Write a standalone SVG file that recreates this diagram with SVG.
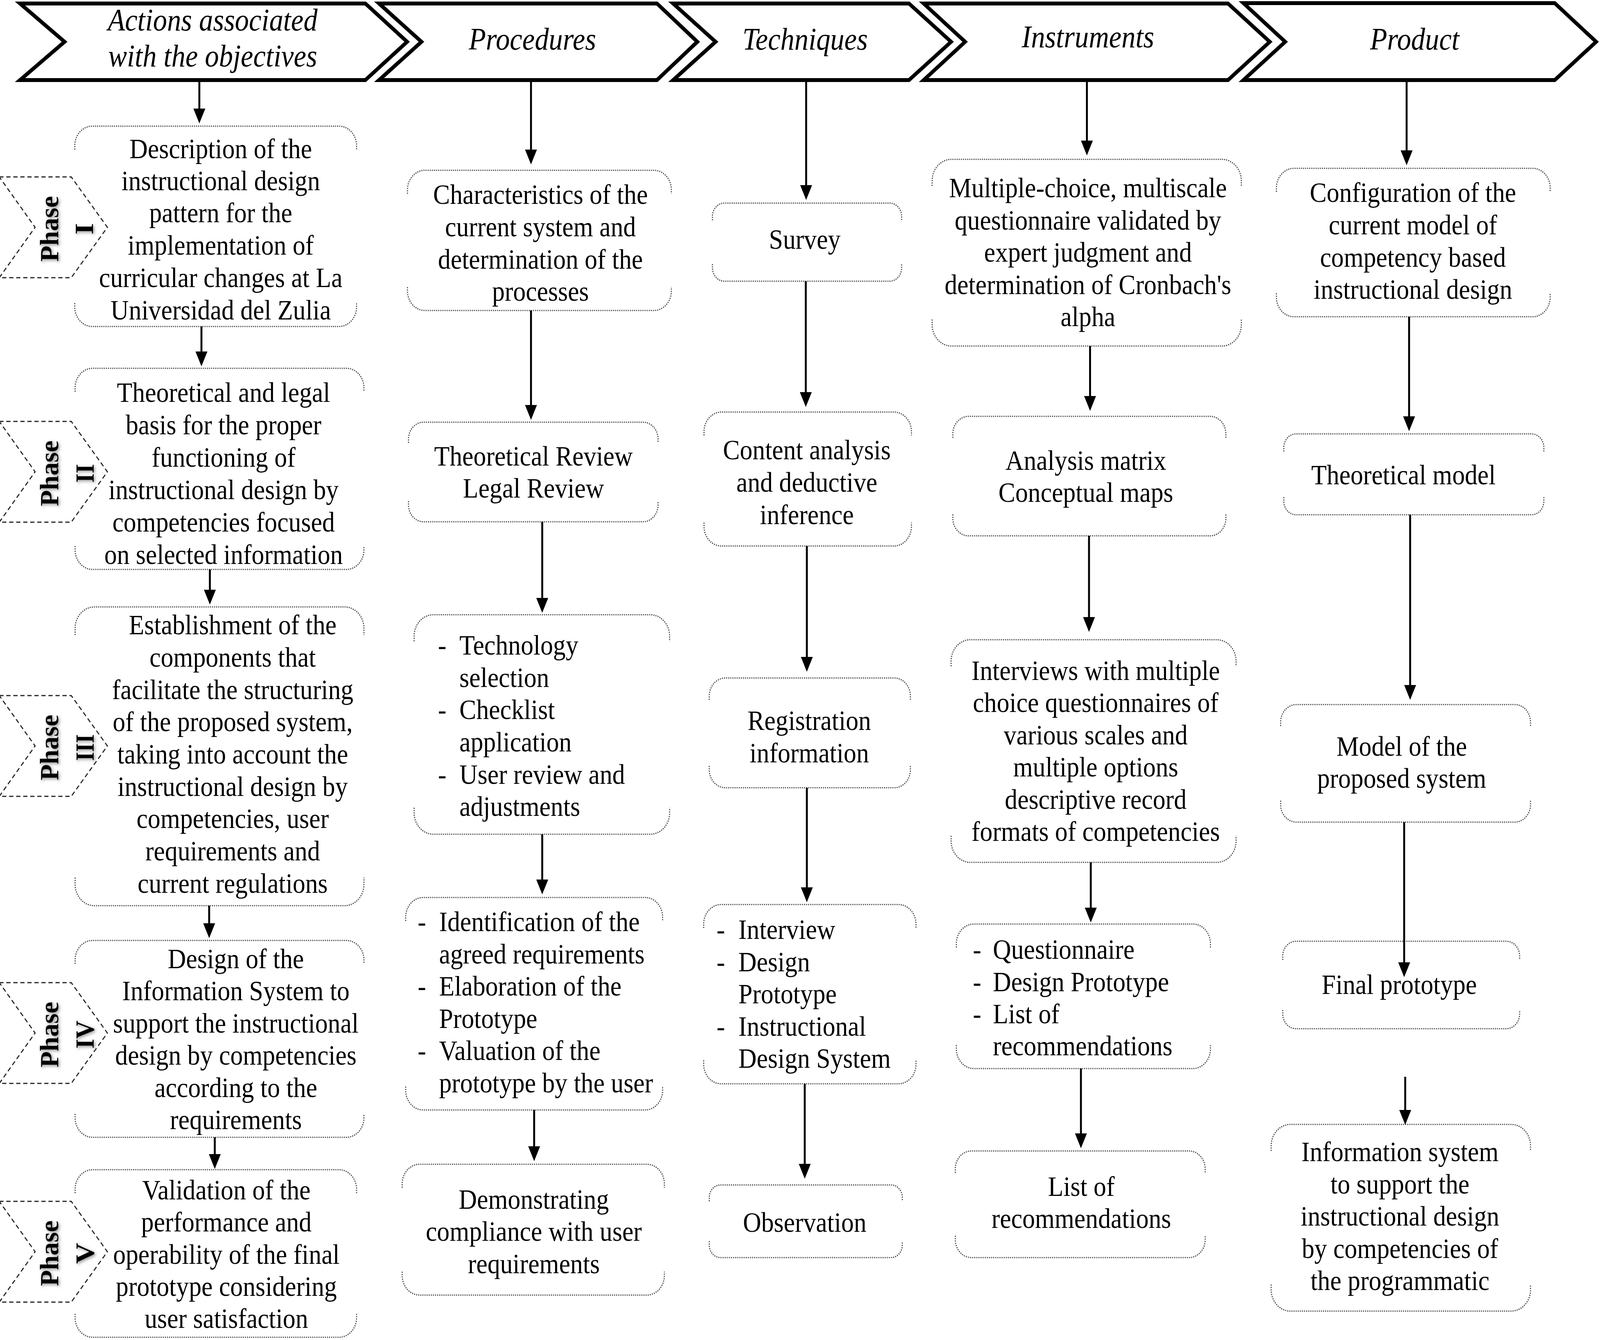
<svg xmlns="http://www.w3.org/2000/svg" width="4559" height="3431" viewBox="0 0 4559 3431" preserveAspectRatio="none">
<style>
svg{width:100vw;height:100vh;display:block}
.t{font-family:"Liberation Serif","Times New Roman",serif;font-size:72px;fill:#000}
.c{text-anchor:middle}
.h{font-style:italic;font-size:80px}
.ph{font-weight:bold;font-size:76px;text-anchor:middle}
.nb{fill:none;stroke:#444;stroke-width:3;stroke-dasharray:3 3}
.hd{fill:#fff;stroke:#000;stroke-width:10;stroke-linejoin:miter}
.pl{fill:none;stroke:#222;stroke-width:3;stroke-dasharray:12 8}
.cn{stroke:#000;stroke-width:5.5;fill:none;marker-end:url(#ah)}
</style>
<defs>
<marker id="ah" markerUnits="userSpaceOnUse" markerWidth="38" markerHeight="34" refX="8" refY="17" orient="auto" viewBox="0 0 38 34">
<path d="M0,0 L38,17 L0,34 z" fill="#000"/>
</marker>
<filter id="sh" x="-30%" y="-30%" width="160%" height="160%">
<feGaussianBlur in="SourceAlpha" stdDeviation="4" result="b"/>
<feOffset in="b" dx="-3" dy="3" result="o"/>
<feFlood flood-color="#777" flood-opacity="0.8"/>
<feComposite in2="o" operator="in" result="s"/>
<feMerge><feMergeNode in="s"/><feMergeNode in="SourceGraphic"/></feMerge>
</filter>
</defs>
<rect width="4559" height="3431" fill="#fff"/>

<g id="headers">
<g id="h1"><polygon class="hd" points="57,9 1041,9 1160,107 1041,205 57,205 184,107"/>
<text class="t c h" x="606" y="78">Actions associated</text>
<text class="t c h" x="606" y="170">with the objectives</text></g>
<g id="h2"><polygon class="hd" points="1080,9 1872,9 1987,107 1872,205 1080,205 1201,107"/>
<text class="t c h" x="1517" y="127">Procedures</text></g>
<g id="h3"><polygon class="hd" points="1918,9 2590,9 2710,107 2590,205 1918,205 2039,107"/>
<text class="t c h" x="2294" y="127">Techniques</text></g>
<g id="h4"><polygon class="hd" points="2632,9 3499,9 3618,107 3499,205 2632,205 2750,107"/>
<text class="t c h" x="3100" y="121">Instruments</text></g>
<g id="h5"><polygon class="hd" points="3543,8 4430,8 4548,107 4430,205 3543,205 3662,107"/>
<text class="t c h" x="4031" y="127">Product</text></g>
</g>

<g id="phases">
<g id="ph1"><polygon class="pl" points="-2,453 203,453 306,582 203,711 -2,711 100,582"/>
<text class="t ph" filter="url(#sh)" transform="translate(166,586) rotate(-90)" textLength="168" lengthAdjust="spacingAndGlyphs">Phase</text>
<text class="t ph" filter="url(#sh)" transform="translate(265,586) rotate(-90)">I</text></g>
<g id="ph2"><polygon class="pl" points="-2,1079 203,1079 306,1208 203,1337 -2,1337 100,1208"/>
<text class="t ph" filter="url(#sh)" transform="translate(166,1212) rotate(-90)" textLength="168" lengthAdjust="spacingAndGlyphs">Phase</text>
<text class="t ph" filter="url(#sh)" transform="translate(267,1212) rotate(-90)" textLength="48" lengthAdjust="spacingAndGlyphs">II</text></g>
<g id="ph3"><polygon class="pl" points="-2,1781 203,1781 306,1910 203,2039 -2,2039 100,1910"/>
<text class="t ph" filter="url(#sh)" transform="translate(166,1914) rotate(-90)" textLength="168" lengthAdjust="spacingAndGlyphs">Phase</text>
<text class="t ph" filter="url(#sh)" transform="translate(267,1914) rotate(-90)" textLength="68" lengthAdjust="spacingAndGlyphs">III</text></g>
<g id="ph4"><polygon class="pl" points="-2,2516 203,2516 306,2645 203,2774 -2,2774 100,2645"/>
<text class="t ph" filter="url(#sh)" transform="translate(166,2649) rotate(-90)" textLength="168" lengthAdjust="spacingAndGlyphs">Phase</text>
<text class="t ph" filter="url(#sh)" transform="translate(267,2649) rotate(-90)" textLength="72" lengthAdjust="spacingAndGlyphs">IV</text></g>
<g id="ph5"><polygon class="pl" points="-2,3076 203,3076 306,3205 203,3334 -2,3334 100,3205"/>
<text class="t ph" filter="url(#sh)" transform="translate(166,3209) rotate(-90)" textLength="168" lengthAdjust="spacingAndGlyphs">Phase</text>
<text class="t ph" filter="url(#sh)" transform="translate(267,3209) rotate(-90)" textLength="54" lengthAdjust="spacingAndGlyphs">V</text></g>
</g>

<g id="nodes">
<g id="a1"><path class="nb" d="M213,383 V373 A50,50 0 0 1 263,323 H966 A50,50 0 0 1 1016,373 V383 M213,776 V786 A50,50 0 0 0 263,836 H966 A50,50 0 0 0 1016,786 V776"/>
<text class="t c" x="629"><tspan x="629" y="405">Description of the</tspan><tspan x="629" y="487">instructional design</tspan><tspan x="629" y="569">pattern for the</tspan><tspan x="629" y="652">implementation of</tspan><tspan x="629" y="735">curricular changes at La</tspan><tspan x="629" y="818">Universidad del Zulia</tspan></text></g>
<g id="a2"><path class="nb" d="M214,1003 V993 A50,50 0 0 1 264,943 H987 A50,50 0 0 1 1037,993 V1003 M214,1398 V1408 A50,50 0 0 0 264,1458 H987 A50,50 0 0 0 1037,1408 V1398"/>
<text class="t c"><tspan x="637" y="1029">Theoretical and legal</tspan><tspan x="637" y="1112">basis for the proper</tspan><tspan x="637" y="1195">functioning of</tspan><tspan x="637" y="1278">instructional design by</tspan><tspan x="637" y="1361">competencies focused</tspan><tspan x="637" y="1444">on selected information</tspan></text></g>
<g id="a3"><path class="nb" d="M214,1626 V1609 A55,55 0 0 1 269,1554 H982 A55,55 0 0 1 1037,1609 V1626 M214,2247 V2264 A55,55 0 0 0 269,2319 H982 A55,55 0 0 0 1037,2264 V2247"/>
<text class="t c"><tspan x="663" y="1624">Establishment of the</tspan><tspan x="663" y="1707">components that</tspan><tspan x="663" y="1790">facilitate the structuring</tspan><tspan x="663" y="1872">of the proposed system,</tspan><tspan x="663" y="1955">taking into account the</tspan><tspan x="663" y="2038">instructional design by</tspan><tspan x="663" y="2120">competencies, user</tspan><tspan x="663" y="2203">requirements and</tspan><tspan x="663" y="2286">current regulations</tspan></text></g>
<g id="a4"><path class="nb" d="M214,2468 V2458 A50,50 0 0 1 264,2408 H987 A50,50 0 0 1 1037,2458 V2468 M214,2852 V2862 A50,50 0 0 0 264,2912 H987 A50,50 0 0 0 1037,2862 V2852"/>
<text class="t c"><tspan x="672" y="2479">Design of the</tspan><tspan x="672" y="2561">Information System to</tspan><tspan x="672" y="2644">support the instructional</tspan><tspan x="672" y="2726">design by competencies</tspan><tspan x="672" y="2809">according to the</tspan><tspan x="672" y="2891">requirements</tspan></text></g>
<g id="a5"><path class="nb" d="M214,3055 V3045 A50,50 0 0 1 264,2995 H966 A50,50 0 0 1 1016,3045 V3055 M214,3364 V3374 A50,50 0 0 0 264,3424 H966 A50,50 0 0 0 1016,3374 V3364"/>
<text class="t c"><tspan x="645" y="3071">Validation of the</tspan><tspan x="645" y="3153">performance and</tspan><tspan x="645" y="3236">operability of the final</tspan><tspan x="645" y="3318">prototype considering</tspan><tspan x="645" y="3400">user satisfaction</tspan></text></g>

<g id="p1"><path class="nb" d="M1161,496 V486 A50,50 0 0 1 1211,436 H1863 A50,50 0 0 1 1913,486 V496 M1161,735 V745 A50,50 0 0 0 1211,795 H1863 A50,50 0 0 0 1913,745 V735"/>
<text class="t c"><tspan x="1540" y="522">Characteristics of the</tspan><tspan x="1540" y="605">current system and</tspan><tspan x="1540" y="688">determination of the</tspan><tspan x="1540" y="770">processes</tspan></text></g>
<g id="p2"><path class="nb" d="M1164,1134 V1124 A43,43 0 0 1 1207,1081 H1832 A43,43 0 0 1 1875,1124 V1134 M1164,1283 V1293 A43,43 0 0 0 1207,1336 H1832 A43,43 0 0 0 1875,1293 V1283"/>
<text class="t c"><tspan x="1520" y="1192">Theoretical Review</tspan><tspan x="1520" y="1274">Legal Review</tspan></text></g>
<g id="p3"><path class="nb" d="M1180,1642 V1629 A55,55 0 0 1 1235,1574 H1853 A55,55 0 0 1 1908,1629 V1642 M1180,2068 V2081 A55,55 0 0 0 1235,2136 H1853 A55,55 0 0 0 1908,2081 V2068"/>
<text class="t"><tspan x="1248" y="1676">-</tspan><tspan x="1309" y="1676">Technology</tspan><tspan x="1309" y="1759">selection</tspan><tspan x="1248" y="1841">-</tspan><tspan x="1309" y="1841">Checklist</tspan><tspan x="1309" y="1924">application</tspan><tspan x="1248" y="2007">-</tspan><tspan x="1309" y="2007">User review and</tspan><tspan x="1309" y="2089">adjustments</tspan></text></g>
<g id="p4"><path class="nb" d="M1156,2358 V2348 A50,50 0 0 1 1206,2298 H1838 A50,50 0 0 1 1888,2348 V2358 M1156,2782 V2792 A50,50 0 0 0 1206,2842 H1838 A50,50 0 0 0 1888,2792 V2782"/>
<text class="t"><tspan x="1190" y="2384">-</tspan><tspan x="1251" y="2384">Identification of the</tspan><tspan x="1251" y="2467">agreed requirements</tspan><tspan x="1190" y="2549">-</tspan><tspan x="1251" y="2549">Elaboration of the</tspan><tspan x="1251" y="2632">Prototype</tspan><tspan x="1190" y="2714">-</tspan><tspan x="1251" y="2714">Valuation of the</tspan><tspan x="1251" y="2797">prototype by the user</tspan></text></g>
<g id="p5"><path class="nb" d="M1146,3041 V3031 A50,50 0 0 1 1196,2981 H1843 A50,50 0 0 1 1893,3031 V3041 M1146,3256 V3266 A50,50 0 0 0 1196,3316 H1843 A50,50 0 0 0 1893,3266 V3256"/>
<text class="t c"><tspan x="1521" y="3095">Demonstrating</tspan><tspan x="1521" y="3177">compliance with user</tspan><tspan x="1521" y="3260">requirements</tspan></text></g>

<g id="t1"><path class="nb" d="M2030,564 V554 A34,34 0 0 1 2064,520 H2535 A34,34 0 0 1 2569,554 V564 M2030,676 V686 A34,34 0 0 0 2064,720 H2535 A34,34 0 0 0 2569,686 V676"/>
<text class="t c" x="2293" y="637">Survey</text></g>
<g id="t2"><path class="nb" d="M2006,1115 V1105 A50,50 0 0 1 2056,1055 H2547 A50,50 0 0 1 2597,1105 V1115 M2006,1338 V1348 A50,50 0 0 0 2056,1398 H2547 A50,50 0 0 0 2597,1348 V1338"/>
<text class="t c"><tspan x="2299" y="1176">Content analysis</tspan><tspan x="2299" y="1259">and deductive</tspan><tspan x="2299" y="1342">inference</tspan></text></g>
<g id="t3"><path class="nb" d="M2021,1792 V1782 A46,46 0 0 1 2067,1736 H2548 A46,46 0 0 1 2594,1782 V1792 M2021,1961 V1971 A46,46 0 0 0 2067,2017 H2548 A46,46 0 0 0 2594,1971 V1961"/>
<text class="t c"><tspan x="2306" y="1869">Registration</tspan><tspan x="2306" y="1952">information</tspan></text></g>
<g id="t4"><path class="nb" d="M2005,2376 V2366 A50,50 0 0 1 2055,2316 H2560 A50,50 0 0 1 2610,2366 V2376 M2005,2715 V2725 A50,50 0 0 0 2055,2775 H2560 A50,50 0 0 0 2610,2725 V2715"/>
<text class="t"><tspan x="2042" y="2404">-</tspan><tspan x="2104" y="2404">Interview</tspan><tspan x="2042" y="2487">-</tspan><tspan x="2104" y="2487">Design</tspan><tspan x="2104" y="2569">Prototype</tspan><tspan x="2042" y="2652">-</tspan><tspan x="2104" y="2652">Instructional</tspan><tspan x="2104" y="2734">Design System</tspan></text></g>
<g id="t5"><path class="nb" d="M2021,3076 V3066 A32,32 0 0 1 2053,3034 H2539 A32,32 0 0 1 2571,3066 V3076 M2021,3178 V3188 A32,32 0 0 0 2053,3220 H2539 A32,32 0 0 0 2571,3188 V3178"/>
<text class="t c" x="2293" y="3154">Observation</text></g>

<g id="i1"><path class="nb" d="M2656,476 V463 A55,55 0 0 1 2711,408 H3482 A55,55 0 0 1 3537,463 V476 M2656,818 V831 A55,55 0 0 0 2711,886 H3482 A55,55 0 0 0 3537,831 V818"/>
<text class="t c"><tspan x="3100" y="505">Multiple-choice, multiscale</tspan><tspan x="3100" y="588">questionnaire validated by</tspan><tspan x="3100" y="670">expert judgment and</tspan><tspan x="3100" y="753">determination of Cronbach's</tspan><tspan x="3100" y="835">alpha</tspan></text></g>
<g id="i2"><path class="nb" d="M2715,1121 V1111 A45,45 0 0 1 2760,1066 H3448 A45,45 0 0 1 3493,1111 V1121 M2715,1317 V1327 A45,45 0 0 0 2760,1372 H3448 A45,45 0 0 0 3493,1327 V1317"/>
<text class="t c"><tspan x="3094" y="1203">Analysis matrix</tspan><tspan x="3094" y="1285">Conceptual maps</tspan></text></g>
<g id="i3"><path class="nb" d="M2710,1706 V1693 A55,55 0 0 1 2765,1638 H3467 A55,55 0 0 1 3522,1693 V1706 M2710,2140 V2153 A55,55 0 0 0 2765,2208 H3467 A55,55 0 0 0 3522,2153 V2140"/>
<text class="t c"><tspan x="3122" y="1741">Interviews with multiple</tspan><tspan x="3122" y="1823">choice questionnaires of</tspan><tspan x="3122" y="1906">various scales and</tspan><tspan x="3122" y="1988">multiple options</tspan><tspan x="3122" y="2071">descriptive record</tspan><tspan x="3122" y="2153">formats of competencies</tspan></text></g>
<g id="i4"><path class="nb" d="M2725,2426 V2416 A50,50 0 0 1 2775,2366 H3399 A50,50 0 0 1 3449,2416 V2426 M2725,2676 V2686 A50,50 0 0 0 2775,2736 H3399 A50,50 0 0 0 3449,2686 V2676"/>
<text class="t"><tspan x="2772" y="2455">-</tspan><tspan x="2829" y="2455">Questionnaire</tspan><tspan x="2772" y="2538">-</tspan><tspan x="2829" y="2538">Design Prototype</tspan><tspan x="2772" y="2620">-</tspan><tspan x="2829" y="2620">List of</tspan><tspan x="2829" y="2702">recommendations</tspan></text></g>
<g id="i5"><path class="nb" d="M2722,3003 V2993 A46,46 0 0 1 2768,2947 H3388 A46,46 0 0 1 3434,2993 V3003 M2722,3164 V3174 A46,46 0 0 0 2768,3220 H3388 A46,46 0 0 0 3434,3174 V3164"/>
<text class="t c"><tspan x="3081" y="3062">List of</tspan><tspan x="3081" y="3144">recommendations</tspan></text></g>

<g id="r1"><path class="nb" d="M3637,491 V481 A50,50 0 0 1 3687,431 H4367 A50,50 0 0 1 4417,481 V491 M3637,751 V761 A50,50 0 0 0 3687,811 H4367 A50,50 0 0 0 4417,761 V751"/>
<text class="t c"><tspan x="4026" y="517">Configuration of the</tspan><tspan x="4026" y="600">current model of</tspan><tspan x="4026" y="683">competency based</tspan><tspan x="4026" y="765">instructional design</tspan></text></g>
<g id="r2"><path class="nb" d="M3658,1156 V1146 A35,35 0 0 1 3693,1111 H4364 A35,35 0 0 1 4399,1146 V1156 M3658,1273 V1283 A35,35 0 0 0 3693,1318 H4364 A35,35 0 0 0 4399,1283 V1273"/>
<text class="t c" x="3999" y="1240">Theoretical model</text></g>
<g id="r3"><path class="nb" d="M3649,1859 V1849 A45,45 0 0 1 3694,1804 H4316 A45,45 0 0 1 4361,1849 V1859 M3649,2050 V2060 A45,45 0 0 0 3694,2105 H4316 A45,45 0 0 0 4361,2060 V2050"/>
<text class="t c"><tspan x="3994" y="1935">Model of the</tspan><tspan x="3994" y="2017">proposed system</tspan></text></g>
<g id="r4"><path class="nb" d="M3655,2458 V2448 A38,38 0 0 1 3693,2410 H4292 A38,38 0 0 1 4330,2448 V2458 M3655,2586 V2596 A38,38 0 0 0 3693,2634 H4292 A38,38 0 0 0 4330,2596 V2586"/>
<text class="t c" x="3987" y="2545">Final prototype</text></g>
<g id="r5"><path class="nb" d="M3622,2947 V2934 A55,55 0 0 1 3677,2879 H4306 A55,55 0 0 1 4361,2934 V2947 M3622,3289 V3302 A55,55 0 0 0 3677,3357 H4306 A55,55 0 0 0 4361,3302 V3289"/>
<text class="t c"><tspan x="3989" y="2973">Information system</tspan><tspan x="3989" y="3056">to support the</tspan><tspan x="3989" y="3138">instructional design</tspan><tspan x="3989" y="3221">by competencies of</tspan><tspan x="3989" y="3303">the programmatic</tspan></text></g>
</g>

<g id="connectors">
<line class="cn" x1="568" y1="205" x2="568" y2="286"/>
<line class="cn" x1="574" y1="836" x2="574" y2="908"/>
<line class="cn" x1="598" y1="1458" x2="598" y2="1518"/>
<line class="cn" x1="596" y1="2319" x2="596" y2="2372"/>
<line class="cn" x1="612" y1="2912" x2="612" y2="2963"/>
<line class="cn" x1="1513" y1="205" x2="1513" y2="391"/>
<line class="cn" x1="1513" y1="795" x2="1513" y2="1045"/>
<line class="cn" x1="1545" y1="1336" x2="1545" y2="1539"/>
<line class="cn" x1="1545" y1="2136" x2="1545" y2="2260"/>
<line class="cn" x1="1522" y1="2842" x2="1522" y2="2943"/>
<line class="cn" x1="2297" y1="205" x2="2297" y2="482"/>
<line class="cn" x1="2296" y1="720" x2="2296" y2="1012"/>
<line class="cn" x1="2299" y1="1398" x2="2299" y2="1690"/>
<line class="cn" x1="2299" y1="2017" x2="2299" y2="2280"/>
<line class="cn" x1="2293" y1="2775" x2="2293" y2="2988"/>
<line class="cn" x1="3097" y1="205" x2="3097" y2="368"/>
<line class="cn" x1="3106" y1="886" x2="3106" y2="1022"/>
<line class="cn" x1="3103" y1="1372" x2="3103" y2="1588"/>
<line class="cn" x1="3108" y1="2208" x2="3108" y2="2332"/>
<line class="cn" x1="3080" y1="2736" x2="3080" y2="2910"/>
<line class="cn" x1="4008" y1="205" x2="4008" y2="393"/>
<line class="cn" x1="4015" y1="811" x2="4015" y2="1074"/>
<line class="cn" x1="4018" y1="1318" x2="4018" y2="1762"/>
<line class="cn" x1="4001" y1="2105" x2="4001" y2="2472"/>
<line class="cn" x1="4004" y1="2757" x2="4004" y2="2850"/>
</g>
</svg>
